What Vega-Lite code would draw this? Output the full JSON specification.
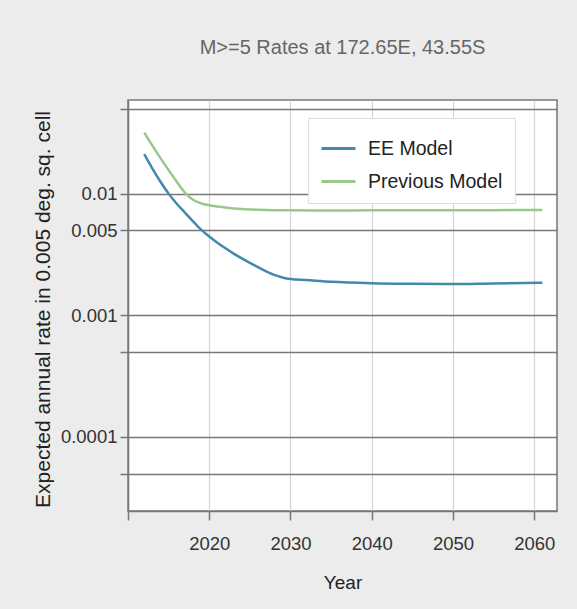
{
  "$schema": "https://vega.github.io/schema/vega-lite/v6.json",
  "width": 429,
  "height": 411,
  "autosize": {"type": "none"},
  "padding": {"left": 128, "top": 100, "right": 20, "bottom": 98},
  "background": "#ececec",
  "title": {
    "text": "M>=5 Rates at 172.65E, 43.55S",
    "font": "Liberation Sans",
    "fontSize": 20,
    "fontWeight": "normal",
    "color": "#666666",
    "anchor": "middle",
    "baseline": "alphabetic",
    "offset": 26
  },
  "config": {
    "view": {"fill": "white", "stroke": "#777777", "strokeWidth": 1.5},
    "font": "Liberation Sans"
  },
  "data": {
    "values": [
      {"year": 2012, "rate": 0.02113, "model": "EE Model"},
      {"year": 2013, "rate": 0.01611, "model": "EE Model"},
      {"year": 2014, "rate": 0.01256, "model": "EE Model"},
      {"year": 2015, "rate": 0.01002, "model": "EE Model"},
      {"year": 2016, "rate": 0.00828, "model": "EE Model"},
      {"year": 2017, "rate": 0.007, "model": "EE Model"},
      {"year": 2018, "rate": 0.00593, "model": "EE Model"},
      {"year": 2019, "rate": 0.00507, "model": "EE Model"},
      {"year": 2020, "rate": 0.00445, "model": "EE Model"},
      {"year": 2021, "rate": 0.00396, "model": "EE Model"},
      {"year": 2022, "rate": 0.00356, "model": "EE Model"},
      {"year": 2023, "rate": 0.00322, "model": "EE Model"},
      {"year": 2024, "rate": 0.00294, "model": "EE Model"},
      {"year": 2025, "rate": 0.0027, "model": "EE Model"},
      {"year": 2026, "rate": 0.00249, "model": "EE Model"},
      {"year": 2027, "rate": 0.0023, "model": "EE Model"},
      {"year": 2028, "rate": 0.00215, "model": "EE Model"},
      {"year": 2029, "rate": 0.00205, "model": "EE Model"},
      {"year": 2030, "rate": 0.00199, "model": "EE Model"},
      {"year": 2032, "rate": 0.00195, "model": "EE Model"},
      {"year": 2035, "rate": 0.00189, "model": "EE Model"},
      {"year": 2040, "rate": 0.00184, "model": "EE Model"},
      {"year": 2045, "rate": 0.00182, "model": "EE Model"},
      {"year": 2050, "rate": 0.00181, "model": "EE Model"},
      {"year": 2055, "rate": 0.00183, "model": "EE Model"},
      {"year": 2061, "rate": 0.00185, "model": "EE Model"},
      {"year": 2012, "rate": 0.03184, "model": "Previous Model"},
      {"year": 2013, "rate": 0.02489, "model": "Previous Model"},
      {"year": 2014, "rate": 0.01963, "model": "Previous Model"},
      {"year": 2015, "rate": 0.01563, "model": "Previous Model"},
      {"year": 2016, "rate": 0.01256, "model": "Previous Model"},
      {"year": 2017, "rate": 0.01021, "model": "Previous Model"},
      {"year": 2018, "rate": 0.00893, "model": "Previous Model"},
      {"year": 2019, "rate": 0.00834, "model": "Previous Model"},
      {"year": 2020, "rate": 0.00804, "model": "Previous Model"},
      {"year": 2021, "rate": 0.00785, "model": "Previous Model"},
      {"year": 2022, "rate": 0.00769, "model": "Previous Model"},
      {"year": 2023, "rate": 0.00757, "model": "Previous Model"},
      {"year": 2024, "rate": 0.00748, "model": "Previous Model"},
      {"year": 2026, "rate": 0.00738, "model": "Previous Model"},
      {"year": 2030, "rate": 0.0073, "model": "Previous Model"},
      {"year": 2035, "rate": 0.00729, "model": "Previous Model"},
      {"year": 2040, "rate": 0.0073, "model": "Previous Model"},
      {"year": 2050, "rate": 0.00731, "model": "Previous Model"},
      {"year": 2061, "rate": 0.00735, "model": "Previous Model"}
    ]
  },
  "mark": {"type": "line", "strokeWidth": 2.5, "interpolate": "monotone", "clip": true},
  "encoding": {
    "x": {
      "field": "year",
      "type": "quantitative",
      "scale": {"domain": [2010, 2062.8], "nice": false, "zero": false},
      "axis": {
        "title": "Year",
        "values": [2010, 2020, 2030, 2040, 2050, 2060],
        "format": "d",
        "labelExpr": "datum.value == 2010 ? '' : datum.label",
        "grid": true,
        "gridColor": "#d4d4d4",
        "gridWidth": 1.2,
        "domain": true,
        "domainColor": "#777777",
        "domainWidth": 1.5,
        "tickColor": "#777777",
        "tickWidth": 1.5,
        "tickSize": 9,
        "labelFont": "Liberation Sans",
        "labelFontSize": 18.5,
        "labelColor": "#333333",
        "labelPadding": 14,
        "labelFlush": false,
        "titleFont": "Liberation Sans",
        "titleFontSize": 19,
        "titleFontWeight": 500,
        "titleColor": "#222222",
        "titlePadding": 21
      }
    },
    "y": {
      "field": "rate",
      "type": "quantitative",
      "scale": {"type": "log", "domain": [0.0000246, 0.059], "nice": false},
      "axis": {
        "title": "Expected annual rate in 0.005 deg. sq. cell",
        "values": [0.05, 0.01, 0.005, 0.001, 0.0005, 0.0001, 0.00005],
        "format": ".4~f",
        "labelExpr": "(datum.value == 0.01 || datum.value == 0.005 || datum.value == 0.001 || datum.value == 0.0001) ? datum.label : ''",
        "grid": true,
        "gridColor": "#777777",
        "gridWidth": 1.5,
        "domain": true,
        "domainColor": "#777777",
        "domainWidth": 1.5,
        "tickColor": "#777777",
        "tickWidth": 1.5,
        "tickSize": 8,
        "labelFont": "Liberation Sans",
        "labelFontSize": 18.5,
        "labelColor": "#333333",
        "labelPadding": 3,
        "labelFlush": false,
        "titleFont": "Liberation Sans",
        "titleFontSize": 21,
        "titleFontWeight": "normal",
        "titleColor": "#222222",
        "titlePadding": 7,
        "titleY": 209
      }
    },
    "color": {
      "field": "model",
      "type": "nominal",
      "scale": {"domain": ["EE Model", "Previous Model"], "range": ["#4389ad", "#99c98a"]},
      "legend": {
        "title": null,
        "orient": "none",
        "legendX": 180,
        "legendY": 18,
        "fillColor": "white",
        "strokeColor": "#dddddd",
        "padding": 12,
        "symbolType": "stroke",
        "symbolSize": 1156,
        "symbolStrokeWidth": 3,
        "labelFont": "Liberation Sans",
        "labelFontSize": 19.5,
        "labelColor": "#222222",
        "labelOffset": 11,
        "rowPadding": 5
      }
    }
  }
}
